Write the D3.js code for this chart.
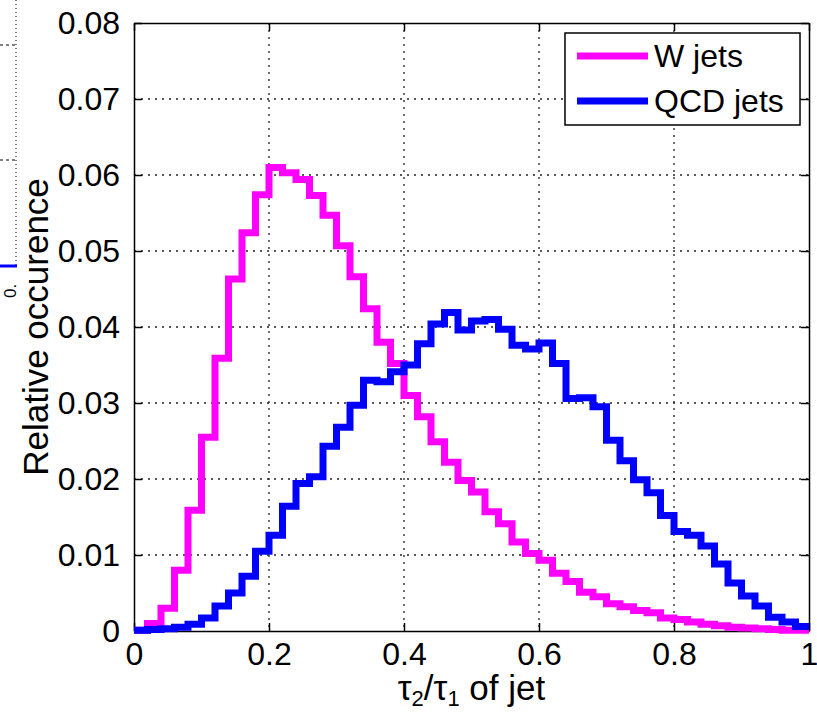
<!DOCTYPE html>
<html>
<head>
<meta charset="utf-8">
<script src="https://cdn.jsdelivr.net/npm/d3@7"></script>
<style>
  body { margin: 0; background: #fff; }
  svg { display: block; font-family: "Liberation Sans", Arial, sans-serif; }
</style>
</head>
<body>
<div id="chart"></div>
<script>
// bin width 0.02, 50 bins from 0 to 1
const binEdges = d3.range(0, 50).map((i) => i * 0.02);

const wJets = [
  0.0001, 0.001, 0.003, 0.008, 0.0159, 0.0255, 0.0359, 0.0463, 0.0524, 0.0574,
  0.061, 0.0603, 0.0594, 0.0573, 0.0547, 0.0507, 0.0466, 0.0424, 0.038, 0.0352,
  0.031, 0.0282, 0.0249, 0.0222, 0.0198, 0.0183, 0.0157, 0.0141, 0.0117, 0.0102,
  0.0093, 0.0076, 0.0065, 0.0051, 0.0045, 0.0036, 0.0032, 0.0027, 0.0024, 0.0017,
  0.0015, 0.0012, 0.0009, 0.0007, 0.0005, 0.0004, 0.0003, 0.0002, 0.0001, 0.0001
];

const qcdJets = [
  0.0001, 0.0002, 0.0003, 0.0005, 0.0009, 0.0017, 0.0033, 0.005, 0.0072, 0.0105,
  0.0126, 0.0164, 0.0194, 0.0203, 0.0243, 0.0268, 0.0297, 0.033, 0.0328, 0.0341,
  0.035, 0.0378, 0.0404, 0.0419, 0.0396, 0.0408, 0.041, 0.0397, 0.0376, 0.0371,
  0.0379, 0.0352, 0.0306, 0.0307, 0.0295, 0.0251, 0.0224, 0.0199, 0.0182, 0.0152,
  0.0131, 0.0126, 0.0112, 0.0088, 0.0063, 0.0046, 0.0033, 0.0018, 0.0012, 0.0006
];

const xTicks = [0, 0.2, 0.4, 0.6, 0.8, 1];
const yTicks = [0, 0.01, 0.02, 0.03, 0.04, 0.05, 0.06, 0.07, 0.08];

const series = [
  { name: "W jets", values: wJets, color: "#ff00ff" },
  { name: "QCD jets", values: qcdJets, color: "#0000ff" }
];

const W = 817, H = 712;
const fontSize = 32;
const labelSize = 35; // axis labels a bit bigger than tick labels

const svg = d3.select("#chart").append("svg")
  .attr("width", W)
  .attr("height", H);

const x = d3.scaleLinear().domain([0, 1]).range([134, 809]);
const y = d3.scaleLinear().domain([0, 0.08]).range([631, 23]);

// remnants of the neighbouring panel on the left
const rem = svg.append("g").attr("stroke", "#000");
rem.append("line").attr("x1", 16).attr("x2", 16).attr("y1", 0).attr("y2", 266)
  .attr("stroke-dasharray", "1,3");
[45, 160].forEach((yy) => {
  rem.append("line").attr("x1", 0).attr("x2", 16).attr("y1", yy).attr("y2", yy)
    .attr("stroke-dasharray", "3,3");
});
svg.append("line").attr("x1", 0).attr("x2", 17).attr("y1", 266).attr("y2", 266)
  .attr("stroke", "#0000ff").attr("stroke-width", 3);
svg.append("text")
  .attr("transform", "translate(16,298) rotate(-90)")
  .attr("font-size", 17)
  .text("0.");

// grid
const grid = svg.append("g")
  .attr("stroke", "#222")
  .attr("stroke-width", 1.3)
  .attr("stroke-dasharray", "2,5");

grid.selectAll(".gx")
  .data(xTicks.slice(1, -1))
  .enter()
  .append("line")
  .attr("x1", (d) => x(d)).attr("x2", (d) => x(d))
  .attr("y1", y(0.08)).attr("y2", y(0));

grid.selectAll(".gy")
  .data(yTicks.slice(1, -1))
  .enter()
  .append("line")
  .attr("x1", x(0)).attr("x2", x(1))
  .attr("y1", (d) => y(d)).attr("y2", (d) => y(d));

// axes with inward ticks on all four sides
const tickLen = 8;
svg.append("g")
  .attr("transform", `translate(0,${y(0)})`)
  .call(d3.axisBottom(x).tickValues(xTicks).tickSizeInner(-tickLen).tickSizeOuter(0)
    .tickPadding(11).tickFormat((d) => d3.format("")(d)));
svg.append("g")
  .attr("transform", `translate(0,${y(0.08)})`)
  .call(d3.axisTop(x).tickValues(xTicks).tickSizeInner(-tickLen).tickSizeOuter(0).tickFormat(""));
svg.append("g")
  .attr("transform", `translate(${x(0)},0)`)
  .call(d3.axisLeft(y).tickValues(yTicks).tickSizeInner(-tickLen).tickSizeOuter(0)
    .tickPadding(14).tickFormat((d) => (d === 0 ? "0" : d3.format(".2f")(d))));
svg.append("g")
  .attr("transform", `translate(${x(1)},0)`)
  .call(d3.axisRight(y).tickValues(yTicks).tickSizeInner(-tickLen).tickSizeOuter(0).tickFormat(""));

svg.selectAll(".domain").attr("stroke", "#000").attr("stroke-width", 1.5);
svg.selectAll(".tick line").attr("stroke", "#000").attr("stroke-width", 1.5);
svg.selectAll(".tick text")
  .attr("font-size", fontSize)
  .attr("font-family", "Liberation Sans, Arial, sans-serif")
  .attr("fill", "#000");

// histogram stairs
const line = d3.line()
  .x((d) => x(d[0]))
  .y((d) => y(d[1]))
  .curve(d3.curveStepAfter);

series.forEach((s) => {
  const pts = binEdges.map((e, i) => [e, s.values[i]]);
  pts.push([1, s.values[s.values.length - 1]]);
  svg.append("path")
    .datum(pts)
    .attr("fill", "none")
    .attr("stroke", s.color)
    .attr("stroke-width", 7)
    .attr("stroke-linejoin", "miter")
    .attr("d", line);
});

// axis labels
svg.append("text")
  .attr("transform", `translate(48,${(y(0) + y(0.08)) / 2}) rotate(-90)`)
  .attr("text-anchor", "middle")
  .attr("font-size", labelSize)
  .text("Relative occurence");

const xl = svg.append("text")
  .attr("x", (x(0) + x(1)) / 2)
  .attr("y", 700)
  .attr("text-anchor", "middle")
  .attr("font-size", labelSize);
xl.append("tspan").text("τ");
xl.append("tspan").attr("font-size", 22).attr("dy", 6).text("2");
xl.append("tspan").attr("dy", -6).text("/τ");
xl.append("tspan").attr("font-size", 22).attr("dy", 6).text("1");
xl.append("tspan").attr("dy", -6).text(" of jet");

// legend
const legend = svg.append("g");
legend.append("rect")
  .attr("x", 565).attr("y", 33)
  .attr("width", 235).attr("height", 92)
  .attr("fill", "#fff")
  .attr("stroke", "#000")
  .attr("stroke-width", 1.5);

series.forEach((s, i) => {
  const ly = 56 + i * 45;
  legend.append("line")
    .attr("x1", 577).attr("x2", 648)
    .attr("y1", ly).attr("y2", ly)
    .attr("stroke", s.color)
    .attr("stroke-width", 7);
  legend.append("text")
    .attr("x", 654).attr("y", ly + 11)
    .attr("font-size", fontSize)
    .text(s.name);
});
</script>
</body>
</html>
